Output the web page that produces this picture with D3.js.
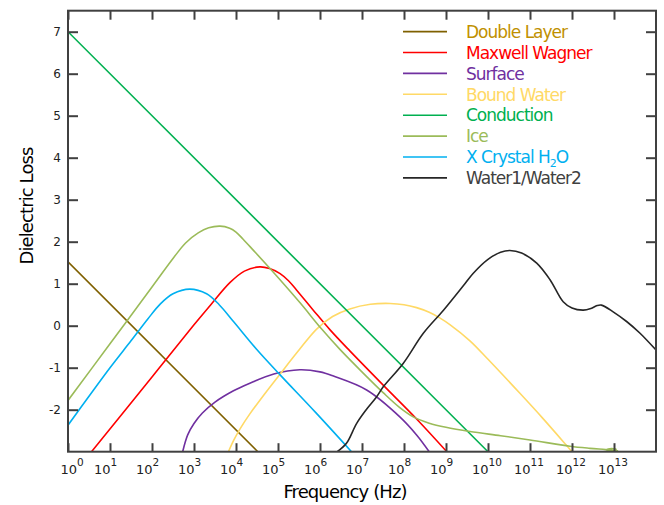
<!DOCTYPE html>
<html>
<head>
<meta charset="utf-8">
<script src="https://cdn.jsdelivr.net/npm/d3@7"></script>
<style>
body { margin: 0; background: #fff; }
svg { display: block; font-family: "DejaVu Sans", sans-serif; }
</style>
</head>
<body>
<script>
// each series: [log10(frequency), dielectric loss]
var doubleLayer = [[0, 1.52], [4.52, -3]];
var maxwellWagner = [[0.56, -3], [2.0, -1.22], [3.0, 0.02], [3.4, 0.5], [3.86, 1.03], [4.2, 1.3],
  [4.57, 1.40], [4.8, 1.36], [5.05, 1.24], [5.25, 1.07], [5.44, 0.85], [5.84, 0.37], [6.24, -0.1],
  [6.71, -0.6], [7.51, -1.42], [8.3, -2.22], [9.02, -3]];
var surface = [[2.73, -3], [2.85, -2.6], [3.0, -2.33], [3.2, -2.08], [3.5, -1.82], [3.94, -1.55],
  [4.33, -1.37], [4.9, -1.15], [5.52, -1.05], [6.0, -1.1], [6.32, -1.2], [7.11, -1.53], [7.9, -2.17],
  [8.3, -2.6], [8.6, -3]];
var boundWater = [[3.82, -3], [3.95, -2.72], [4.1, -2.45], [4.33, -2.1], [4.7, -1.6], [5.05, -1.15],
  [5.5, -0.58], [5.92, -0.08], [6.3, 0.22], [6.71, 0.4], [7.2, 0.51], [7.67, 0.53], [8.0, 0.5],
  [8.3, 0.43], [8.6, 0.32], [8.86, 0.18], [9.1, 0.02], [9.57, -0.36], [10.0, -0.8], [10.76, -1.61],
  [11.3, -2.2], [11.87, -2.85], [12.0, -3]];
var conduction = [[0, 7], [10, -3]];
var ice = [[0, -1.78], [1.0, -0.43], [2.0, 0.92], [2.5, 1.6], [2.8, 1.97], [3.1, 2.21], [3.35, 2.33],
  [3.62, 2.37], [3.85, 2.32], [4.0, 2.23], [4.17, 2.06], [4.41, 1.8], [4.81, 1.36], [5.52, 0.55],
  [6.04, -0.08], [6.48, -0.57], [7.0, -1.1], [7.51, -1.6], [7.9, -1.95], [8.22, -2.17], [8.6, -2.32],
  [9.0, -2.42], [9.57, -2.52], [10.3, -2.62], [11.0, -2.72], [11.95, -2.87], [12.43, -2.92],
  [12.8, -2.95], [13.0, -2.97], [13.05, -2.94], [12.9, -2.93], [12.82, -2.96], [12.97, -2.99], [13.1, -2.98]];
var xCrystal = [[0, -2.37], [0.5, -1.68], [1.0, -1.0], [1.5, -0.36], [1.9, 0.16], [2.2, 0.52],
  [2.5, 0.76], [2.9, 0.87], [3.3, 0.76], [3.6, 0.5], [3.94, 0.1], [4.49, -0.56], [5.05, -1.17],
  [5.9, -2.07], [6.75, -3]];
var water = [[6.41, -3], [6.63, -2.8], [6.87, -2.33], [7.1, -2.0], [7.35, -1.69], [7.51, -1.45],
  [7.98, -0.9], [8.46, -0.18], [8.94, 0.37], [9.45, 1.0], [9.65, 1.25], [10.0, 1.58], [10.3, 1.75],
  [10.52, 1.79], [10.8, 1.73], [11.16, 1.49], [11.48, 1.09], [11.79, 0.57], [12.0, 0.42], [12.27, 0.37],
  [12.45, 0.41], [12.6, 0.48], [12.7, 0.49], [12.98, 0.33], [13.3, 0.1], [13.62, -0.18], [14.0, -0.58]];

var seriesNames = ["Double Layer", "Maxwell Wagner", "Surface", "Bound Water", "Conduction", "Ice", "X Crystal H2O", "Water1/Water2"];
var seriesData = [doubleLayer, maxwellWagner, surface, boundWater, conduction, ice, xCrystal, water];
var lineColors = ["#7f6000", "#ff0000", "#7030a0", "#ffd966", "#00b050", "#9bbb59", "#00b0f0", "#262626"];
var textColors = ["#bf9000", "#ff0000", "#7030a0", "#ffd966", "#00b050", "#9bbb59", "#00b0f0", "#404040"];

var xExponents = [0, 1, 2, 3, 4, 5, 6, 7, 8, 9, 10, 11, 12, 13];
var yTicks = [-2, -1, 0, 1, 2, 3, 4, 5, 6, 7];

var width = 664, height = 505;
var plotLeft = 68, plotRight = 656, plotTop = 10.7, plotBottom = 451.7;

var x = d3.scaleLog().domain([1, 1e14]).range([plotLeft, plotRight]);
var y = d3.scaleLinear().domain([-3, 7.5]).range([plotBottom, plotTop]);

var svg = d3.select("body").append("svg")
    .attr("width", width)
    .attr("height", height);

svg.append("clipPath").attr("id", "plot")
  .append("rect")
    .attr("x", plotLeft).attr("y", plotTop)
    .attr("width", plotRight - plotLeft).attr("height", plotBottom - plotTop);

// curves
var line = d3.line()
    .x(function(d) { return x(Math.pow(10, d[0])); })
    .y(function(d) { return y(d[1]); })
    .curve(d3.curveCatmullRom.alpha(0.5));

svg.append("g").attr("clip-path", "url(#plot)")
  .selectAll("path")
    .data(seriesData)
  .enter().append("path")
    .attr("d", line)
    .attr("fill", "none")
    .attr("stroke", function(d, i) { return lineColors[i]; })
    .attr("stroke-width", 1.6);

// ticks on all four sides, pointing inward
var axisColor = "#404040";
var xTickVals = xExponents.map(function(e) { return Math.pow(10, e); });

function styleAxis(g) {
  g.select(".domain").remove();
  g.selectAll(".tick line").attr("stroke", axisColor).attr("stroke-width", 2);
  g.selectAll(".tick text").remove();
}

svg.append("g").attr("transform", "translate(0," + plotBottom + ")")
    .call(d3.axisBottom(x).tickValues(xTickVals).tickSize(-8.5).tickSizeOuter(0))
    .call(styleAxis);
svg.append("g").attr("transform", "translate(0," + plotTop + ")")
    .call(d3.axisTop(x).tickValues(xTickVals).tickSize(-9).tickSizeOuter(0))
    .call(styleAxis);
svg.append("g").attr("transform", "translate(" + plotLeft + ",0)")
    .call(d3.axisLeft(y).tickValues(yTicks).tickSize(-10).tickSizeOuter(0))
    .call(styleAxis);
svg.append("g").attr("transform", "translate(" + plotRight + ",0)")
    .call(d3.axisRight(y).tickValues(yTicks).tickSize(-10).tickSizeOuter(0))
    .call(styleAxis);

svg.append("rect")
    .attr("x", plotLeft).attr("y", plotTop)
    .attr("width", plotRight - plotLeft).attr("height", plotBottom - plotTop)
    .attr("fill", "none")
    .attr("stroke", axisColor)
    .attr("stroke-width", 2);

// y tick labels
svg.append("g").selectAll("text")
    .data(yTicks)
  .enter().append("text")
    .attr("x", 61)
    .attr("y", function(d) { return y(d) + 4.3; })
    .attr("text-anchor", "end")
    .attr("font-size", 12)
    .attr("fill", "#222")
    .text(function(d) { return d; });

// x tick labels as 10 with a raised exponent
var xl = svg.append("g").selectAll("text")
    .data(xExponents)
  .enter().append("text")
    .attr("x", function(d) { return x(Math.pow(10, d)) - (d == 0 ? 7.5 : 16); })
    .attr("y", 473.7)
    .attr("fill", "#222")
    .attr("font-size", 13);
xl.append("tspan").text("10");
xl.append("tspan")
    .attr("dy", -7.5)
    .attr("font-size", 10.5)
    .text(function(d) { return d; });

// axis titles
svg.append("text")
    .attr("x", 345)
    .attr("y", 498.3)
    .attr("text-anchor", "middle")
    .attr("font-size", 18)
    .attr("letter-spacing", -0.9)
    .attr("fill", "#000")
    .text("Frequency (Hz)");

svg.append("text")
    .attr("transform", "translate(33,206) rotate(-90)")
    .attr("text-anchor", "middle")
    .attr("font-size", 18)
    .attr("letter-spacing", -0.9)
    .attr("fill", "#000")
    .text("Dielectric Loss");

// legend
var legend = svg.append("g").selectAll("g")
    .data(seriesNames)
  .enter().append("g")
    .attr("transform", function(d, i) { return "translate(0," + (31.6 + i * 20.9) + ")"; });

legend.append("line")
    .attr("x1", 403).attr("x2", 447)
    .attr("stroke", function(d, i) { return lineColors[i]; })
    .attr("stroke-width", 1.6);

var lt = legend.append("text")
    .attr("x", 466)
    .attr("y", 6.2)
    .attr("font-size", 17)
    .attr("letter-spacing", -1.0)
    .attr("fill", function(d, i) { return textColors[i]; });

lt.each(function(d) {
  var t = d3.select(this);
  var m = d.match(/^(.*H)(2)(O)$/);
  if (m) {
    t.append("tspan").text(m[1]);
    t.append("tspan").attr("dy", 3.5).attr("font-size", 11).text(m[2]);
    t.append("tspan").attr("dy", -3.5).text(m[3]);
  } else {
    t.text(d);
  }
});
</script>
</body>
</html>
